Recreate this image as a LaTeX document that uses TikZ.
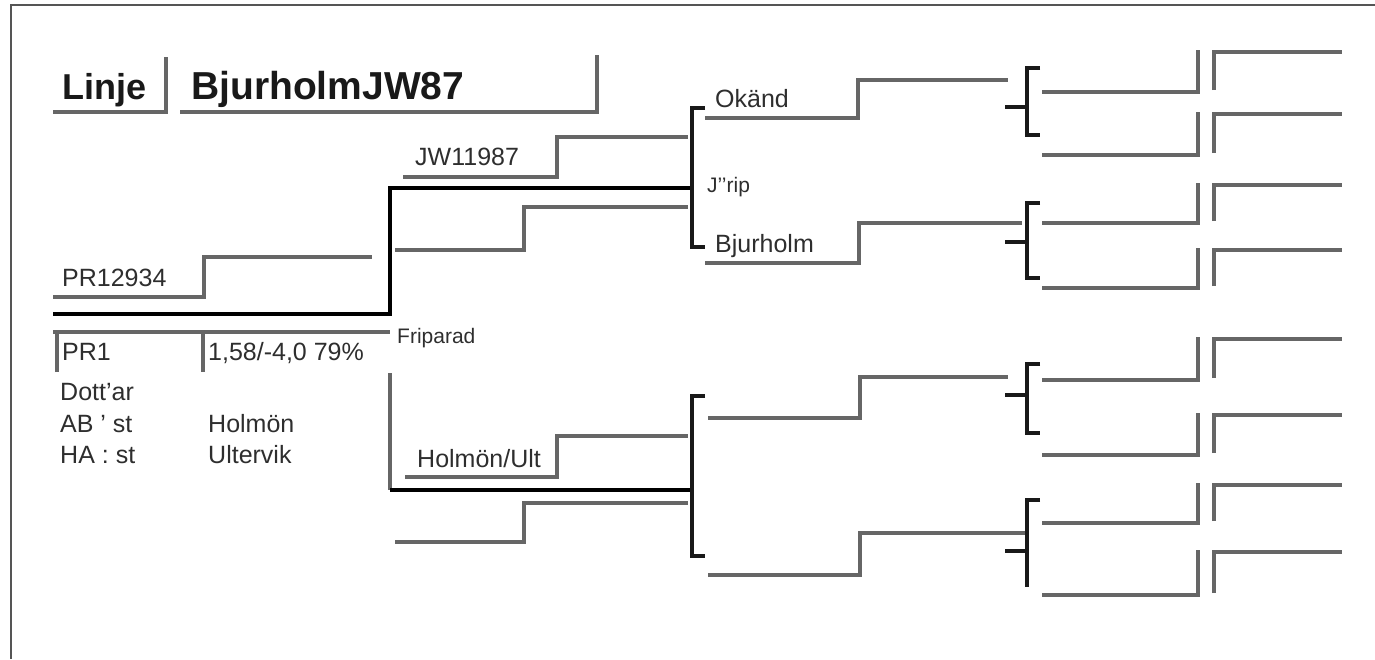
\documentclass[tikz,border=0pt]{standalone}
\usepackage{fontspec}
\setmainfont{Liberation Sans}
\definecolor{lgray}{HTML}{666666}
\definecolor{frgray}{HTML}{555555}
\definecolor{tgray}{HTML}{2E2E2E}
\begin{document}
\begin{tikzpicture}[x=1pt,y=-1pt,line join=miter,
  gl/.style={draw=lgray,line width=3.2pt},
  kl/.style={draw=black,line width=4.5pt},
  br/.style={draw=black!90,line width=4pt},
  fr/.style={draw=frgray,line width=2pt},
  tx/.style={anchor=base west,inner sep=0pt,text=tgray,font=\fontsize{25}{30}\selectfont},
  sx/.style={anchor=base west,inner sep=0pt,text=tgray,font=\fontsize{21}{25}\selectfont},
  ttl/.style={anchor=base west,inner sep=0pt,text=black!90,font=\bfseries\fontsize{39}{46}\selectfont}]
\useasboundingbox (0,0) rectangle (1375,659);
% frame
\coordinate (ftr) at (1375,5); \coordinate (ftl) at (11,5); \coordinate (fbl) at (11,659);
\draw[fr] (ftr) -- (ftl) -- (fbl);
% texts
\node[ttl,font=\bfseries\fontsize{36}{44}\selectfont] (linje) at (62,99) {Linje};
\node[ttl] (bjw) at (191,99) {BjurholmJW87};
\node[tx] (pr12934) at (62,286) {PR12934};
\node[tx] (pr1) at (62,360) {PR1};
\node[tx] (idx) at (208,360) {1,58/-4,0 79\%};
\node[tx] (dott) at (60,400) {Dott’ar};
\node[tx] (ab) at (60,432) {AB ’ st};
\node[tx] (ha) at (60,463) {HA : st};
\node[tx] (holmon) at (208,432) {Holmön};
\node[tx] (ultervik) at (208,463) {Ultervik};
\node[sx] (friparad) at (397,343) {Friparad};
\node[tx] (jw) at (415,165) {JW11987};
\node[tx] (okand) at (715,107) {Okänd};
\node[sx] (jrip) at (707,192) {J’’rip};
\node[tx] (bjh) at (715,252) {Bjurholm};
\node[tx] (hu) at (417,467) {Holmön/Ult};
% title boxes
\coordinate (t1a) at (53,112); \coordinate (t1b) at (166,57);
\coordinate (t2a) at (180,112); \coordinate (t2b) at (597,55);
\draw[gl] (t1a) -| (t1b);
\draw[gl] (t2a) -| (t2b);
% PR1 box
\coordinate (p1) at (57,372); \coordinate (p3) at (390,332);
\coordinate (p4) at (203,332); \coordinate (p5) at (203,372);
\coordinate (p0) at (53,332);
\draw[gl] (p0) -- (p3);
\draw[gl] (p1) |- (p3);
\draw[gl] (p4) -- (p5);
% step lines
\foreach \n/\xa/\yl/\xs/\yh/\xe in {s1/53/297/204/257/372, s2/403/177/557/137/688, s3/395/250/524/207/688,
  s4/405/477/557/436/688, s5/395/542/524/503/688, s6/705/118/858/80/1008, s7/705/263/859/223/1022,
  s8/708/418/860/377/1008, s9/708/575/860/533/1025}{
  \coordinate (\n a) at (\xa,\yl); \coordinate (\n b) at (\xs,\yh); \coordinate (\n c) at (\xe,\yh);
  \draw[gl] (\n a) -| (\n b) -- (\n c);
}
% thick main lines
\coordinate (ka) at (53,314); \coordinate (kb) at (390,188); \coordinate (kc) at (692,188);
\coordinate (kd) at (390,490); \coordinate (ke) at (692,490); \coordinate (gv) at (390,373);
\draw[kl] (ka) -| (kb) -- (kc);
\draw[gl] (gv) -- (kd);
\draw[kl] (kd) -- (ke);
% big brackets
\foreach \n/\yt/\yb in {bl1/108/247, bl2/396/556}{
  \coordinate (\n t) at (705,\yt); \coordinate (\n m) at (692,\yt); \coordinate (\n b) at (705,\yb);
  \draw[br] (\n t) -- (\n m) |- (\n b);
}
% small brackets
\foreach \n/\yt/\yb/\ym in {b1/68/135/107, b2/203/278/242, b3/364/433/395}{
  \coordinate (\n t) at (1040,\yt); \coordinate (\n m) at (1027,\yt); \coordinate (\n b) at (1040,\yb);
  \coordinate (\n k) at (1005,\ym); \coordinate (\n j) at (1027,\ym);
  \draw[br] (\n t) -- (\n m) |- (\n b);
  \draw[br] (\n k) -- (\n j);
}
\coordinate (b4t) at (1040,500); \coordinate (b4m) at (1027,500); \coordinate (b4b) at (1027,587);
\coordinate (b4k) at (1005,551); \coordinate (b4j) at (1027,551);
\draw[br] (b4t) -- (b4m) -- (b4b);
\draw[br] (b4k) -- (b4j);
% right columns
\foreach \i/\yb/\yt in {1/92/50, 2/155/112, 3/223/183, 4/288/248, 5/380/337, 6/455/413, 7/523/483, 8/595/550}{
  \coordinate (r\i a) at (1042,\yb); \coordinate (r\i b) at (1198,\yt);
  \draw[gl] (r\i a) -| (r\i b);
  \coordinate (c\i a) at (1214,\yb-2); \coordinate (c\i b) at (1342,\yt+2);
  \draw[gl] (c\i a) |- (c\i b);
}
\end{tikzpicture}
\end{document}
